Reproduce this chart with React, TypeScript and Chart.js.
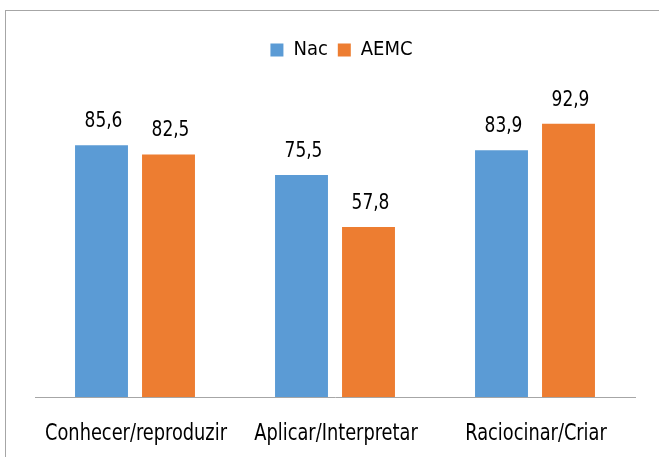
import { useEffect, useRef } from 'react';
import { Chart, registerables } from 'chart.js';

Chart.register(...registerables);

const categories = ['Conhecer/reproduzir', 'Aplicar/Interpretar', 'Raciocinar/Criar'];
const seriesNames = ['Nac', 'AEMC'];
const nacValues = [85.6, 75.5, 83.9];
const aemcValues = [82.5, 57.8, 92.9];
const seriesColors = ['#5b9bd5', '#ed7d31'];

const FONT = "'DejaVu Sans Condensed', 'Liberation Sans Narrow', sans-serif";

// value labels above each bar (condensed look via horizontal scaling)
const valueLabels = {
  id: 'valueLabels',
  afterDatasetsDraw(chart: any) {
    const ctx = chart.ctx;
    chart.data.datasets.forEach((ds: any, i: number) => {
      const meta = chart.getDatasetMeta(i);
      meta.data.forEach((bar: any, j: number) => {
        const v = ds.data[j] as number;
        ctx.save();
        ctx.translate(bar.x + 2, bar.y - 18);
        ctx.scale(0.86, 1);
        ctx.font = `22px ${FONT}`;
        ctx.fillStyle = '#000000';
        ctx.textAlign = 'center';
        ctx.textBaseline = 'alphabetic';
        ctx.fillText(v.toFixed(1).replace('.', ','), 0, 0);
        ctx.restore();
      });
    });
  },
};

// category labels under the axis, drawn at the x scale's tick positions
const categoryLabels = {
  id: 'categoryLabels',
  afterDraw(chart: any) {
    const ctx = chart.ctx;
    const xs = chart.scales.x;
    const labels = chart.data.labels as string[];
    labels.forEach((lab, i) => {
      const x = xs.getPixelForTick(i);
      ctx.save();
      ctx.translate(x + 1, chart.chartArea.bottom + 43);
      ctx.scale(0.86, 1);
      ctx.font = `23px ${FONT}`;
      ctx.fillStyle = '#000000';
      ctx.textAlign = 'center';
      ctx.textBaseline = 'alphabetic';
      ctx.fillText(lab, 0, 0);
      ctx.restore();
    });
  },
};

const legendShift = {
  id: 'legendShift',
  afterLayout(chart: any) {
    const l = chart.legend;
    if (l) {
      l.left += 6.5;
      l.right += 6.5;
    }
  },
};

export default function App() {
  const canvasRef = useRef<HTMLCanvasElement | null>(null);

  useEffect(() => {
    if (!canvasRef.current) return;
    const chart = new Chart(canvasRef.current, {
      type: 'bar',
      data: {
        labels: categories,
        datasets: [
          {
            label: seriesNames[0],
            data: nacValues,
            backgroundColor: seriesColors[0],
            categoryPercentage: 0.67,
            barPercentage: 0.79,
          },
          {
            label: seriesNames[1],
            data: aemcValues,
            backgroundColor: seriesColors[1],
            categoryPercentage: 0.67,
            barPercentage: 0.79,
          },
        ],
      },
      options: {
        responsive: false,
        animation: false,
        layout: { padding: { top: 30, left: 35, right: 24, bottom: 60 } },
        plugins: {
          legend: {
            position: 'top',
            labels: {
              boxWidth: 13,
              boxHeight: 13,
              padding: 10,
              color: '#000000',
              font: { family: FONT, size: 20 },
            },
          },
          title: {
            display: true,
            text: '',
            position: 'top',
            weight: 500,
            padding: 0,
            font: { size: 33, lineHeight: 1 },
          },
          tooltip: { enabled: false },
        },
        scales: {
          x: {
            grid: { display: false, drawTicks: false },
            border: { display: true, color: '#a6a6a6', width: 1 },
            ticks: { display: false },
          },
          y: {
            display: false,
            min: 0,
            max: 100,
          },
        },
      },
      plugins: [valueLabels, categoryLabels, legendShift],
    });
    return () => chart.destroy();
  }, []);

  return (
    <div
      style={{
        position: 'fixed',
        left: 0,
        top: 0,
        width: 659,
        height: 457,
        overflow: 'hidden',
        background: '#ffffff',
      }}
    >
      <div
        style={{
          position: 'absolute',
          left: 5,
          top: 10,
          width: 700,
          height: 500,
          border: '1px solid #a6a6a6',
        }}
      />
      <canvas
        ref={canvasRef}
        width={659}
        height={457}
        style={{ position: 'absolute', left: 0, top: 0, width: 659, height: 457 }}
      />
    </div>
  );
}
